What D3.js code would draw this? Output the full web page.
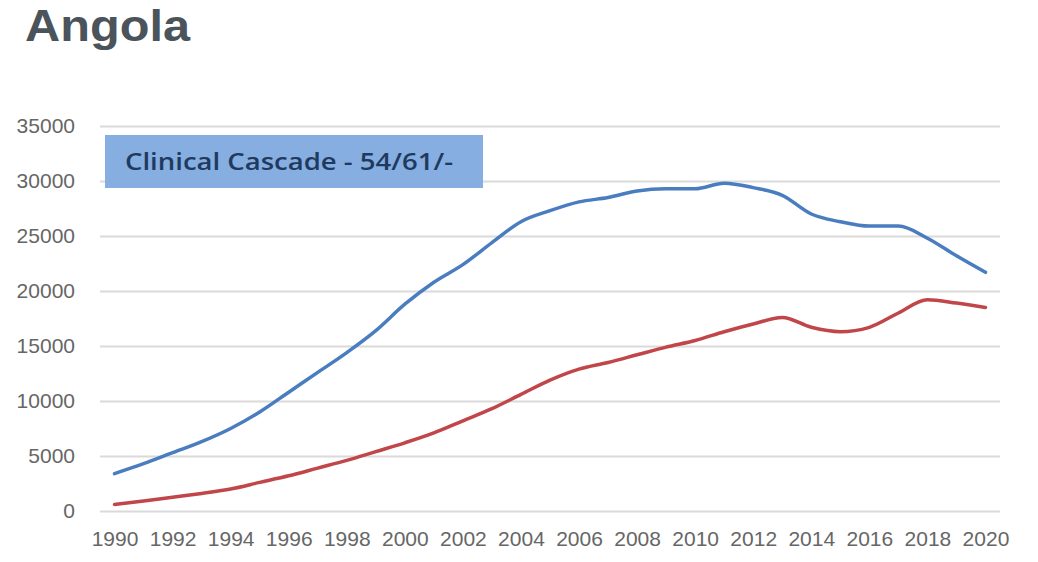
<!DOCTYPE html>
<html>
<head>
<meta charset="utf-8">
<script src="https://cdn.jsdelivr.net/npm/d3@7"></script>
<style>
  html, body { margin: 0; padding: 0; background: #fff; }
  svg { display: block; }
</style>
</head>
<body>
<svg id="chart" width="1038" height="562"></svg>
<script>
// Annual series, 1990–2020
const years = d3.range(1990, 2021);
const blueSeries = [3400, 4300, 5300, 6300, 7500, 9000, 10800, 12600, 14400, 16400,
  18800, 20800, 22400, 24400, 26300, 27300, 28100, 28500, 29100, 29300,
  29300, 29800, 29400, 28700, 27000, 26300, 25900, 25900, 24800, 23200, 21700];
const redSeries = [600, 900, 1250, 1600, 2000, 2600, 3200, 3900, 4600, 5400,
  6200, 7100, 8200, 9300, 10600, 11900, 12900, 13500, 14200, 14900,
  15500, 16300, 17000, 17600, 16700, 16300, 16700, 18000, 19200, 18900, 18500];
const yTicks = [0, 5000, 10000, 15000, 20000, 25000, 30000, 35000];
const xTicks = d3.range(1990, 2021, 2);
const titleText = "Angola";
const boxLabel = "Clinical Cascade - 54/61/-";

const svg = d3.select("#chart");
svg.append("rect").attr("width", 1038).attr("height", 562).attr("fill", "#fff");

const plot = { left: 100, right: 1000, top: 126, bottom: 511 };

const x = d3.scaleLinear().domain([1989.5, 2020.5]).range([plot.left, plot.right]);
const y = d3.scaleLinear().domain([0, 35000]).range([plot.bottom, plot.top]);

// Title
svg.append("text")
  .attr("x", 25).attr("y", 40.5)
  .attr("font-family", "Liberation Sans, Arial, sans-serif")
  .attr("font-weight", 700)
  .attr("font-size", 44.5)
  .attr("fill", "#4b535b")
  .attr("textLength", 165)
  .attr("lengthAdjust", "spacingAndGlyphs")
  .text(titleText);

// Y axis with gridlines
const yAxis = svg.append("g")
  .attr("transform", `translate(${plot.left},0)`)
  .call(d3.axisLeft(y).tickValues(yTicks).tickSize(-(plot.right - plot.left)).tickPadding(25).tickFormat(d3.format("d")));
yAxis.select(".domain").remove();
yAxis.selectAll(".tick line").attr("stroke", "#dadada").attr("stroke-width", 2);
yAxis.selectAll(".tick text")
  .attr("font-family", "Liberation Sans, Arial, sans-serif")
  .attr("font-size", 21)
  .attr("fill", "#666")
  .attr("dy", "0.3em");

// X axis labels
const xAxis = svg.append("g")
  .attr("transform", `translate(0,${plot.bottom})`)
  .call(d3.axisBottom(x).tickValues(xTicks).tickSize(0).tickPadding(20).tickFormat(d3.format("d")));
xAxis.select(".domain").remove();
xAxis.selectAll(".tick text")
  .attr("font-family", "Liberation Sans, Arial, sans-serif")
  .attr("font-size", 21)
  .attr("fill", "#666");

// Label box
svg.append("rect")
  .attr("x", 105).attr("y", 135)
  .attr("width", 378).attr("height", 53)
  .attr("fill", "#86aee0");
svg.append("text")
  .attr("x", 125).attr("y", 170)
  .attr("font-family", "Open Sans, Noto Sans, sans-serif")
  .attr("font-weight", 600)
  .attr("font-size", 23)
  .attr("fill", "#1f3a5f")
  .attr("textLength", 328)
  .attr("lengthAdjust", "spacingAndGlyphs")
  .text(boxLabel);

// Lines
const line = d3.line()
  .x((d, i) => x(years[i]))
  .y(d => y(d))
  .curve(d3.curveMonotoneX);

svg.append("path")
  .datum(blueSeries)
  .attr("d", line)
  .attr("fill", "none")
  .attr("stroke", "#4a7dbf")
  .attr("stroke-width", 3.5)
  .attr("stroke-linejoin", "round")
  .attr("stroke-linecap", "round");

svg.append("path")
  .datum(redSeries)
  .attr("d", line)
  .attr("fill", "none")
  .attr("stroke", "#c0464a")
  .attr("stroke-width", 3.5)
  .attr("stroke-linejoin", "round")
  .attr("stroke-linecap", "round");
</script>
</body>
</html>
